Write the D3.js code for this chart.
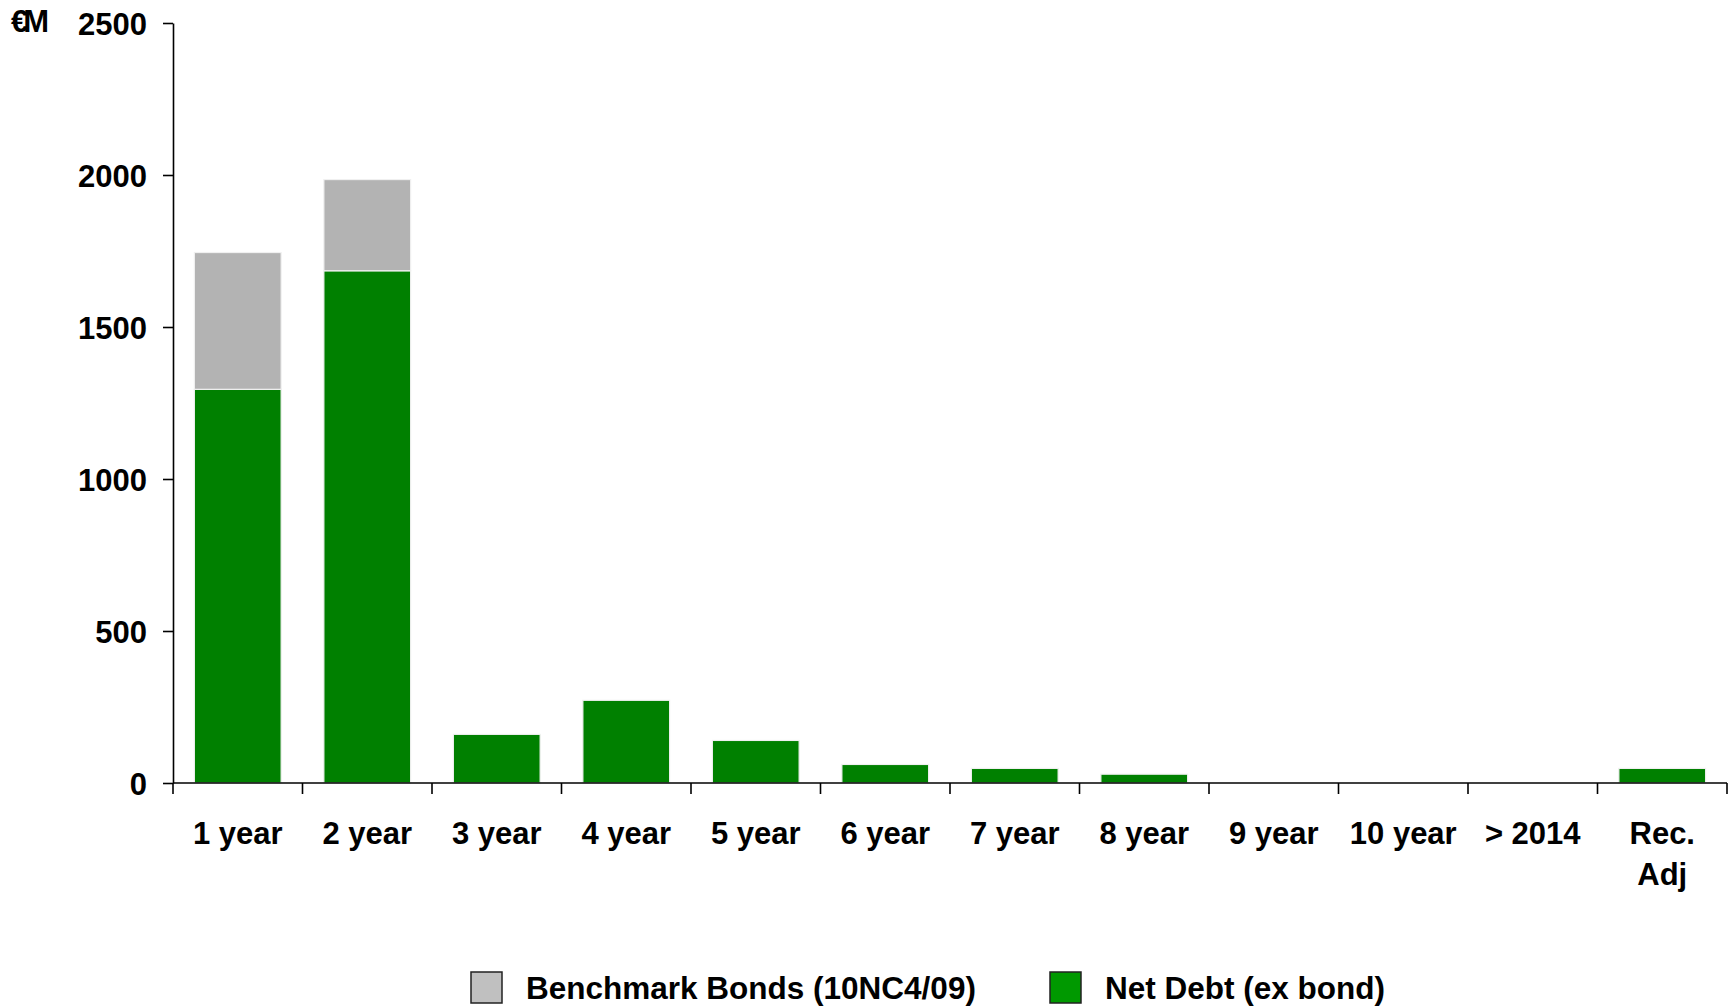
<!DOCTYPE html>
<html>
<head>
<meta charset="utf-8">
<script src="https://cdn.jsdelivr.net/npm/d3@7"></script>
<style>
  body { margin: 0; background: #fff; }
  text { font-family: "Liberation Sans", Arial, sans-serif; font-weight: bold; }
</style>
</head>
<body>
<svg id="chart" width="1734" height="1006"></svg>
<script>
// chart data
const categories = ["1 year", "2 year", "3 year", "4 year", "5 year", "6 year", "7 year", "8 year", "9 year", "10 year", "> 2014", "Rec. Adj"];
const netDebt = [1295, 1685, 160, 272, 140, 61, 48, 29, 0, 0, 0, 48];
const benchmarkBonds = [450, 300, 0, 0, 0, 0, 0, 0, 0, 0, 0, 0];
const yTicks = [0, 500, 1000, 1500, 2000, 2500];
const seriesNames = ["Benchmark Bonds (10NC4/09)", "Net Debt (ex bond)"];

let svg = d3.select("#chart");

const margin = { top: 23, right: 7, bottom: 223, left: 173 };
const width = 1734;
const height = 1006;

// x scale over the categories
let xScale = d3
  .scaleBand()
  .domain(categories)
  .range([margin.left, width - margin.right])
  .paddingInner(0.33)
  .paddingOuter(0.165);

// y scale
let yScale = d3
  .scaleLinear()
  .domain([0, 2500])
  .range([height - margin.bottom, margin.top]);

// stack the two series, net debt at the bottom
let rows = categories.map((c, i) => ({ cat: c, net: netDebt[i], bond: benchmarkBonds[i] }));
let stacked = d3.stack().keys(["net", "bond"])(rows);
let fills = { net: "#008000", bond: "#b3b3b3" };

svg.append("g")
  .selectAll("g")
  .data(stacked)
  .enter()
  .append("g")
  .attr("fill", (d) => fills[d.key])
  .selectAll("rect")
  .data((d) => d.filter((s) => s[1] - s[0] > 0))
  .enter()
  .append("rect")
  .attr("x", (d) => xScale(d.data.cat))
  .attr("y", (d) => yScale(d[1]))
  .attr("width", xScale.bandwidth())
  .attr("height", (d) => yScale(d[0]) - yScale(d[1]))
  .attr("stroke", "#f0f0f0")
  .attr("stroke-width", 1.2);

// y axis
let yAxis = svg
  .append("g")
  .attr("transform", `translate(${margin.left},0)`)
  .call(d3.axisLeft(yScale).tickValues(yTicks).tickFormat(d3.format("d")).tickSize(10).tickSizeOuter(0).tickPadding(16));
yAxis.selectAll("text").style("font-size", "31px").attr("fill", "#000").attr("dy", "0.36em");
yAxis.selectAll("line, path").attr("stroke", "#000").attr("stroke-width", 1.6);

// x axis, ticks sit on the band boundaries
let x0 = margin.left;
let step = xScale.step();
let boundaries = d3.range(categories.length + 1).map((i) => x0 + i * step);
let xAxisG = svg.append("g").attr("transform", `translate(0,${height - margin.bottom})`);
xAxisG.append("line")
  .attr("x1", margin.left).attr("x2", width - margin.right)
  .attr("stroke", "#000").attr("stroke-width", 1.6);
xAxisG.selectAll(".btick")
  .data(boundaries)
  .enter()
  .append("line")
  .attr("class", "btick")
  .attr("x1", (d) => d).attr("x2", (d) => d)
  .attr("y1", 0).attr("y2", 11)
  .attr("stroke", "#000").attr("stroke-width", 1.6);

// category labels, "Rec. Adj" wraps onto two lines
xAxisG.selectAll(".xlabel")
  .data(categories)
  .enter()
  .append("text")
  .attr("class", "xlabel")
  .attr("text-anchor", "middle")
  .style("font-size", "31px")
  .attr("fill", "#000")
  .each(function (d) {
    let parts = d === "Rec. Adj" ? ["Rec.", "Adj"] : [d];
    let t = d3.select(this);
    parts.forEach((p, i) => {
      t.append("tspan")
        .attr("x", xScale(d) + xScale.bandwidth() / 2)
        .attr("y", 61 + i * 41)
        .text(p);
    });
  });

// unit label
svg.append("text")
  .attr("x", 11)
  .attr("y", 32)
  .style("font-size", "31px")
  .style("letter-spacing", "-5px")
  .attr("fill", "#000")
  .text("€M");

// legend
let legendFills = ["#c0c0c0", "#009900"];
let legendX = [471, 1050];
let legend = svg.append("g");
seriesNames.forEach((name, i) => {
  legend.append("rect")
    .attr("x", legendX[i]).attr("y", 972)
    .attr("width", 31).attr("height", 31)
    .attr("fill", legendFills[i])
    .attr("stroke", "#222").attr("stroke-width", 1.5);
  legend.append("text")
    .attr("x", legendX[i] + 55).attr("y", 999)
    .style("font-size", "31.5px")
    .attr("fill", "#000")
    .text(name);
});
</script>
</body>
</html>
